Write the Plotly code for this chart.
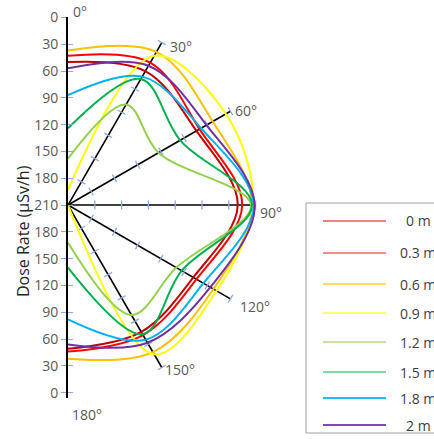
import numpy as np
import plotly.graph_objects as go

# ---------------- data ----------------
angles_deg = [0, 30, 60, 90, 120, 150, 180]
series_names = ["0 m", "0.3 m", "0.6 m", "0.9 m", "1.2 m", "1.5 m", "1.8 m", "2 m"]

# radial value (distance from the centre, chart units) at each angle
r_0m = [160, 173, 166, 190, 162, 164, 161]
r_03m = [167, 184, 170, 195, 166, 168, 164]
r_06m = [173, 198, 187, 206, 188, 190, 172]
r_09m = [17, 193, 204, 207, 192, 193, 0]
r_12m = [52, 130, 117, 205, 140, 142, 42]
r_15m = [86, 163, 145, 206, 147, 167, 70]
r_18m = [123, 166, 172, 208, 175, 174, 128]
r_2m = [153, 180, 179, 209, 184, 178, 156]
series_values = [r_0m, r_03m, r_06m, r_09m, r_12m, r_15m, r_18m, r_2m]

spoke_angles = [30, 60, 90, 120, 150]
spoke_labels = ["30°", "60°", "90°", "120°", "150°"]
spoke_length = 210
spoke_tick_radii = [30, 60, 90, 120, 150, 180, 210]

y_tickvals = [-210, -180, -150, -120, -90, -60, -30, 0, 30, 60, 90, 120, 150, 180, 210]
y_ticktext = ["0", "30", "60", "90", "120", "150", "180", "210",
              "180", "150", "120", "90", "60", "30", "0"]

# ---------------- style ----------------
colors = ["#C00000", "#FF0000", "#FFC000", "#FFFF00", "#92D050", "#00B050", "#00B0F0", "#7030A0"]
legend_colors = ["#EE8080", "#F48A8A", "#FFD966", "#FFFF66", "#C6E3A4", "#84D8A8", "#22BDF4", "#7F48B8"]
legend_y_px = [221, 253, 284, 313, 342, 372, 398, 425]

W, H = 434, 439
L, T, PW, PH = 68, 17, 268, 381
X_RANGE = [0, 300]
Y_RANGE = [-216, 210.5]
UNIT_PX = PH / (Y_RANGE[1] - Y_RANGE[0])


def px(xp, yp):
    return (xp - L) / PW, (T + PH - yp) / PH


fig = go.Figure()

# spokes
sx, sy = [], []
for a in spoke_angles:
    t = np.radians(a)
    sx += [0, spoke_length * np.sin(t), None]
    sy += [0, spoke_length * np.cos(t), None]
fig.add_trace(go.Scatter(x=sx, y=sy, mode="lines", line=dict(color="black", width=1.6),
                         hoverinfo="skip", showlegend=False))

# spoke ticks
half = 4.5 / UNIT_PX
tx, ty = [], []
for a in spoke_angles:
    t = np.radians(a)
    ux, uy = np.sin(t), np.cos(t)
    nx, ny = np.cos(t), -np.sin(t)
    for r in spoke_tick_radii:
        cx, cy = r * ux, r * uy
        tx += [cx - half * nx, cx + half * nx, None]
        ty += [cy - half * ny, cy + half * ny, None]
fig.add_trace(go.Scatter(x=tx, y=ty, mode="lines", line=dict(color="#8EA9DB", width=1.3),
                         hoverinfo="skip", showlegend=False))

# curves
th = np.radians(angles_deg)
for name, vals, c in zip(series_names, series_values, colors):
    r = np.array(vals, dtype=float)
    fig.add_trace(go.Scatter(x=r * np.sin(th), y=r * np.cos(th), mode="lines", name=name,
                             line=dict(color=c, width=2, shape="spline", smoothing=1.0),
                             showlegend=False))

annotations = []
shapes = []
lab_font = dict(family="Open Sans", size=14, color="#595959")

# degree labels
deg_pos = {"0°": (80, 11.5), "30°": (181, 46), "60°": (246, 110), "90°": (271, 212.5),
           "120°": (255, 306), "150°": (180, 369), "180°": (87, 414)}
for lab in ["0°"] + spoke_labels + ["180°"]:
    xx, yy = px(*deg_pos[lab])
    annotations.append(dict(x=xx, y=yy, xref="paper", yref="paper", text=lab, showarrow=False,
                            xanchor="center", yanchor="middle", font=lab_font))

# axis title
xx, yy = px(23, 231)
annotations.append(dict(x=xx, y=yy, xref="paper", yref="paper", text="Dose Rate (μSv/h)",
                        textangle=-90, showarrow=False, xanchor="center", yanchor="middle",
                        font=dict(family="Open Sans", size=16, color="#262626")))

# legend (drawn)
x0, y0 = px(306, 203)
x1, y1 = px(490, 433)
shapes.append(dict(type="rect", xref="paper", yref="paper", x0=x0, y0=y0, x1=x1, y1=y1,
                   line=dict(color="#A0A0A0", width=1), fillcolor="white", layer="below"))
for name, c, ly in zip(series_names, legend_colors, legend_y_px):
    a0, b0 = px(323, ly)
    a1, _ = px(386, ly)
    shapes.append(dict(type="line", xref="paper", yref="paper", x0=a0, x1=a1, y0=b0, y1=b0,
                       line=dict(color=c, width=1.8)))
    tx_, ty_ = px(418, ly)
    annotations.append(dict(x=tx_, y=ty_, xref="paper", yref="paper", text=name, showarrow=False,
                            xanchor="center", yanchor="middle",
                            font=dict(family="Open Sans", size=14, color="#404040")))

fig.update_layout(
    width=W, height=H,
    margin=dict(l=L, r=W - L - PW, t=T, b=H - T - PH, autoexpand=False),
    paper_bgcolor="white", plot_bgcolor="white",
    showlegend=False,
    xaxis=dict(range=X_RANGE, visible=False, fixedrange=True),
    yaxis=dict(range=Y_RANGE, tickvals=y_tickvals, ticktext=y_ticktext,
               showline=True, linecolor="black", linewidth=2,
               ticks="outside", ticklen=5, tickwidth=1.3, tickcolor="#8EA9DB",
               showgrid=False, zeroline=False, tickfont=lab_font, fixedrange=True),
    yaxis2=dict(range=Y_RANGE, overlaying="y", tickvals=y_tickvals, showticklabels=False,
                ticks="inside", ticklen=5, tickwidth=1.3, tickcolor="#8EA9DB",
                showline=False, showgrid=False, zeroline=False, fixedrange=True),
    annotations=annotations, shapes=shapes,
)
# dummy trace to activate yaxis2
fig.add_trace(go.Scatter(x=[None], y=[None], yaxis="y2", showlegend=False, hoverinfo="skip"))

fig.write_html("out.html", config={"displayModeBar": False},
               post_script="document.body.style.margin='0';document.body.style.padding='0';")
